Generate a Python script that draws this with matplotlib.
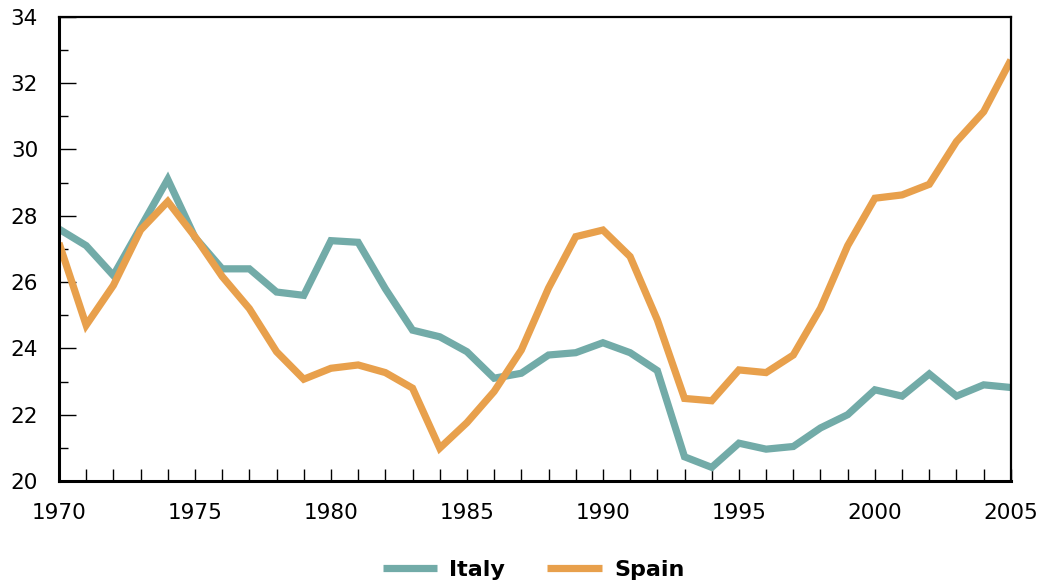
import matplotlib
matplotlib.use("Agg")
import matplotlib.pyplot as plt
from matplotlib.ticker import MultipleLocator

years = list(range(1970, 2006))
italy = [27.6, 27.1, 26.2, 27.65, 29.1, 27.35, 26.4, 26.4, 25.7, 25.6,
         27.25, 27.2, 25.8, 24.55, 24.35, 23.9, 23.1, 23.25, 23.8, 23.87,
         24.17, 23.87, 23.33, 20.73, 20.41, 21.14, 20.96, 21.04, 21.6, 22.0,
         22.75, 22.56, 23.23, 22.56, 22.9, 22.82]
spain = [27.18, 24.7, 25.9, 27.57, 28.43, 27.37, 26.17, 25.2, 23.9, 23.07,
         23.4, 23.5, 23.27, 22.8, 20.99, 21.76, 22.7, 23.95, 25.82, 27.37,
         27.57, 26.77, 24.86, 22.49, 22.42, 23.35, 23.27, 23.8, 25.21, 27.1,
         28.53, 28.63, 28.95, 30.24, 31.14, 32.7]
series = ["Italy", "Spain"]
colors = {"Italy": "#72ABA8", "Spain": "#E8A04C"}

plt.rcParams['font.family'] = ['DejaVu Sans']
fig = plt.figure(figsize=(10.4, 5.83), dpi=100)
ax = fig.add_axes([0.0567, 0.175, 0.9153, 0.796])

for name, vals in zip(series, [italy, spain]):
    ax.plot(years, vals, color=colors[name], lw=5.2, label=name,
            solid_joinstyle='miter', solid_capstyle='butt')

ax.set_xlim(1970, 2005)
ax.set_ylim(20, 34)
ax.xaxis.set_major_locator(MultipleLocator(5))
ax.xaxis.set_minor_locator(MultipleLocator(1))
ax.yaxis.set_major_locator(MultipleLocator(2))
ax.yaxis.set_minor_locator(MultipleLocator(1))
ax.tick_params(axis='x', which='both', direction='in', length=8.5, width=1,
               labelsize=15.5, pad=16)
ax.tick_params(axis='y', which='major', direction='in', length=12, width=1,
               labelsize=15.5, pad=15)
ax.tick_params(axis='y', which='minor', direction='in', length=6.5, width=1)
for s in ['left', 'bottom']:
    ax.spines[s].set_linewidth(2.2)
for s in ['top', 'right']:
    ax.spines[s].set_linewidth(1.6)

leg = fig.legend(loc='center', bbox_to_anchor=(0.513, 0.022), ncol=2,
                 frameon=False, handlelength=2.45, handletextpad=0.55,
                 columnspacing=1.9, prop={'size': 16, 'weight': 'bold'})

fig.savefig("out.png", dpi=100)
